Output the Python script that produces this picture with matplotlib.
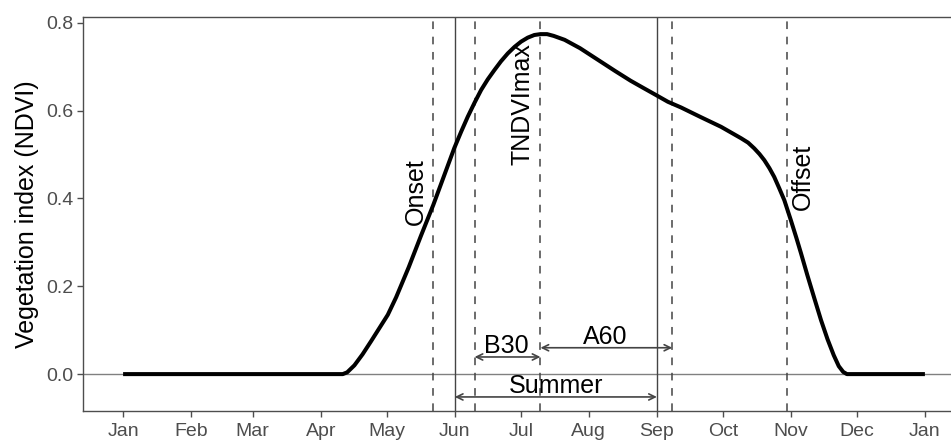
import matplotlib
matplotlib.use("Agg")
import matplotlib.pyplot as plt

plt.rcParams['font.family'] = ['Liberation Sans', 'DejaVu Sans']

# day of year and NDVI
days = [0, 100, 102, 105.3, 109, 112.9, 116.7, 120.5, 124.3, 130, 135.6, 141.2, 146, 150.8, 153.9,
        156.9, 160, 163, 166, 169, 172, 175.1, 178.2, 181.2, 184.2, 187.2, 190, 193, 196, 201, 208,
        216, 224, 231, 237, 242, 248, 254, 263, 272.2, 281.3, 284.5, 287.3, 289.7, 291.9, 294.2,
        296.4, 298.7, 301, 304, 306.5, 308.6, 311.5, 314.7, 317.7, 320.7, 323.5, 325.8, 327.8,
        329.5, 365]
ndvi = [0, 0, 0.004, 0.02, 0.045, 0.075, 0.105, 0.135, 0.175, 0.243, 0.315, 0.385, 0.45, 0.515,
        0.552, 0.586, 0.618, 0.647, 0.671, 0.692, 0.712, 0.73, 0.745, 0.757, 0.766, 0.772, 0.774,
        0.774, 0.77, 0.761, 0.742, 0.716, 0.69, 0.668, 0.651, 0.637, 0.62, 0.607, 0.585, 0.563,
        0.537, 0.527, 0.514, 0.501, 0.487, 0.469, 0.449, 0.423, 0.396, 0.35, 0.31, 0.275, 0.225,
        0.172, 0.123, 0.079, 0.043, 0.018, 0.005, 0, 0]

month_days = [0, 31, 59, 90, 120, 151, 181, 212, 243, 273, 304, 334, 365]
month_labels = ["Jan", "Feb", "Mar", "Apr", "May", "Jun", "Jul", "Aug", "Sep", "Oct", "Nov", "Dec", "Jan"]

onset = 141
tmax = 190
b30 = tmax - 30
a60 = tmax + 60
offset = 302
summer_start = 151
summer_end = 243

fig = plt.figure(figsize=(9.51, 4.41), dpi=100)
ax = fig.add_axes([83 / 951, 30 / 441, 882 / 951, 394 / 441])

ax.axhline(0, color="#808080", lw=1.0, zorder=1)
for d in [onset, b30, tmax, a60, offset]:
    ax.axvline(d, color="#444444", lw=1.1, dashes=(5, 5), zorder=1)
for d in [summer_start, summer_end]:
    ax.axvline(d, color="#444444", lw=1.0, zorder=1)

ax.plot(days, ndvi, color="black", lw=2.9, solid_capstyle="butt", solid_joinstyle="round", zorder=3)

arrow = dict(arrowstyle="<->, head_length=0.45, head_width=0.22", color="#444444", lw=1.2,
             shrinkA=0, shrinkB=0)
ax.annotate("", xy=(b30, 0.039), xytext=(tmax, 0.039), arrowprops=arrow)
ax.annotate("", xy=(tmax, 0.06), xytext=(a60, 0.06), arrowprops=arrow)
ax.annotate("", xy=(summer_start, -0.052), xytext=(summer_end, -0.052), arrowprops=arrow)

fs = 18
ax.text(174.3, 0.064, "B30", fontsize=fs, ha="center", va="center")
ax.text(219.3, 0.084, "A60", fontsize=fs, ha="center", va="center")
ax.text(196.9, -0.027, "Summer", fontsize=fs, ha="center", va="center")
ax.text(133.4, 0.415, "Onset", fontsize=fs, ha="center", va="center", rotation=90)
ax.text(181.9, 0.615, "TNDVImax", fontsize=fs, ha="center", va="center", rotation=90)
ax.text(309.4, 0.45, "Offset", fontsize=fs, ha="center", va="center", rotation=90)

ax.set_xlim(-18.25, 383.25)
ax.set_ylim(-0.084, 0.813)
ax.set_xticks(month_days)
ax.set_xticklabels(month_labels)
ax.set_yticks([0.0, 0.2, 0.4, 0.6, 0.8])
ax.set_yticklabels(["0.0", "0.2", "0.4", "0.6", "0.8"])
ax.tick_params(colors="#4d4d4d", labelsize=14, length=4, width=1.0)
ax.tick_params(axis="x", pad=4.5)
ax.tick_params(axis="y", pad=3)
ax.set_ylabel("Vegetation index (NDVI)", fontsize=18, labelpad=5)
for s in ax.spines.values():
    s.set_color("#4d4d4d")
    s.set_linewidth(1.0)

fig.savefig("out.png", dpi=100)
